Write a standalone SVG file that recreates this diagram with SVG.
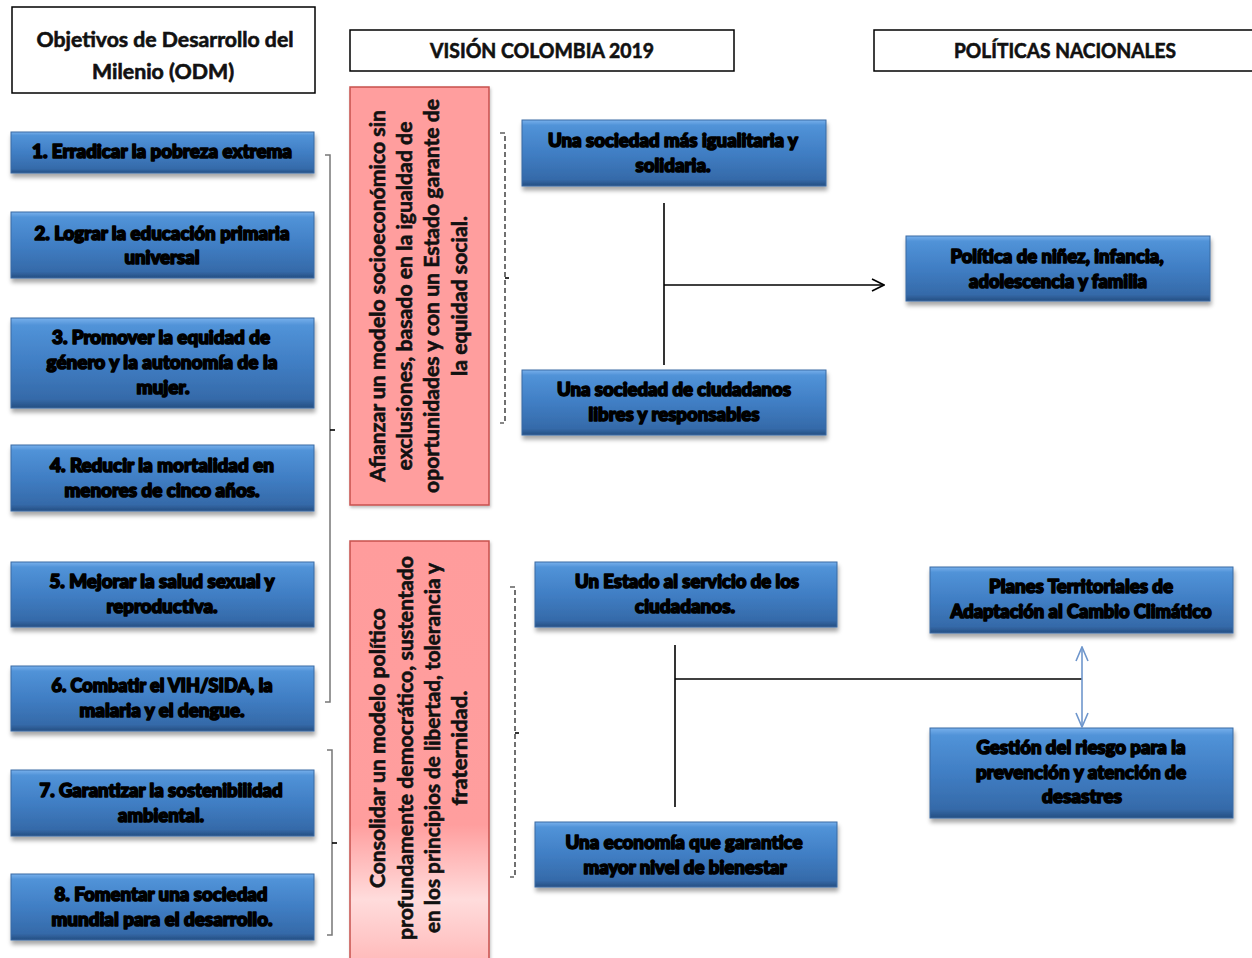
<svg xmlns="http://www.w3.org/2000/svg" width="1252" height="958" viewBox="0 0 1252 958">
<style>
.hdr{fill:#fff;stroke:#000;stroke-width:1.5}
.ht{font-family:Lato,"Liberation Sans",sans-serif;font-weight:bold;font-size:20px;fill:#111;stroke:#111;stroke-width:0.6;text-anchor:middle}
.bx{fill:url(#blueG);stroke:#3a6aa3;stroke-width:1;filter:url(#sh)}
.bt{font-family:Lato,"Liberation Sans",sans-serif;font-weight:900;font-size:18px;fill:#000;stroke:#000;stroke-width:1.6;text-anchor:middle;stroke-linejoin:round}
.red{stroke:#c8514e;stroke-width:1.5;filter:url(#sh2)}
.rt{font-family:Lato,"Liberation Sans",sans-serif;font-weight:bold;font-size:20px;fill:#111;stroke:#111;stroke-width:0.6;text-anchor:middle}
.br{fill:none;stroke:#777;stroke-width:1.5}
.dbr{fill:none;stroke:#111;stroke-width:1.2;stroke-dasharray:5 3}
.ln{fill:none;stroke:#000;stroke-width:1.6}
.bl{fill:none;stroke:#6e96cc;stroke-width:1.6}
</style>
<defs>
<linearGradient id="blueG" x1="0" y1="0" x2="0" y2="1">
<stop offset="0" stop-color="#78b0ec"/>
<stop offset="0.08" stop-color="#5193d8"/>
<stop offset="0.5" stop-color="#407ec4"/>
<stop offset="0.9" stop-color="#356aa9"/>
<stop offset="1" stop-color="#254f82"/>
</linearGradient>
<linearGradient id="redG2" gradientUnits="userSpaceOnUse" x1="0" y1="541" x2="0" y2="958">
<stop offset="0" stop-color="#ff9c9c"/>
<stop offset="0.68" stop-color="#ff9e9e"/>
<stop offset="0.86" stop-color="#ffdcdc"/>
<stop offset="1" stop-color="#ffbcbc"/>
</linearGradient>
<filter id="sh" x="-10%" y="-20%" width="120%" height="150%">
<feDropShadow dx="1" dy="4" stdDeviation="2" flood-color="#000" flood-opacity="0.35"/>
</filter>
<filter id="sh2" x="-10%" y="-10%" width="120%" height="120%">
<feDropShadow dx="1" dy="2" stdDeviation="1.5" flood-color="#000" flood-opacity="0.25"/>
</filter>
<marker id="ahK" viewBox="0 0 14 14" refX="13" refY="7" markerWidth="14" markerHeight="14" markerUnits="userSpaceOnUse" orient="auto-start-reverse">
<path d="M1,1 L13,7 L1,13" fill="none" stroke="#000" stroke-width="1.6"/>
</marker>
<marker id="ahB" viewBox="0 0 16 14" refX="15" refY="7" markerWidth="16" markerHeight="14" markerUnits="userSpaceOnUse" orient="auto-start-reverse">
<path d="M1,1 L15,7 L1,13" fill="none" stroke="#6e96cc" stroke-width="1.6"/>
</marker>
</defs>
<rect width="1252" height="958" fill="#fff"/>

<g id="hdr-odm">
<rect class="hdr" x="12" y="7" width="303" height="86"/>
<text class="ht" x="165" y="47" textLength="257" lengthAdjust="spacingAndGlyphs">Objetivos de Desarrollo del</text>
<text class="ht" x="163" y="79" textLength="142" lengthAdjust="spacingAndGlyphs">Milenio (ODM)</text>
</g>
<g id="hdr-vision">
<rect class="hdr" x="350" y="30" width="384" height="41"/>
<text class="ht" x="542" y="58" textLength="224" lengthAdjust="spacingAndGlyphs">VISIÓN COLOMBIA 2019</text>
</g>
<g id="hdr-politicas">
<rect class="hdr" x="874" y="30" width="384" height="41"/>
<text class="ht" x="1065" y="58" textLength="222" lengthAdjust="spacingAndGlyphs">POLÍTICAS NACIONALES</text>
</g>

<g id="odm1"><rect class="bx" x="11" y="132" width="303" height="41"/>
<text class="bt" x="162" y="158" textLength="260" lengthAdjust="spacingAndGlyphs">1. Erradicar la pobreza extrema</text></g>
<g id="odm2"><rect class="bx" x="11" y="212" width="303" height="66"/>
<text class="bt" x="162" y="240" textLength="255" lengthAdjust="spacingAndGlyphs">2. Lograr la educación primaria</text>
<text class="bt" x="162" y="264" textLength="75" lengthAdjust="spacingAndGlyphs">universal</text></g>
<g id="odm3"><rect class="bx" x="11" y="318" width="303" height="90"/>
<text class="bt" x="161" y="344" textLength="218" lengthAdjust="spacingAndGlyphs">3. Promover la equidad de</text>
<text class="bt" x="162" y="369" textLength="231" lengthAdjust="spacingAndGlyphs">género y la autonomía de la</text>
<text class="bt" x="163" y="394" textLength="53" lengthAdjust="spacingAndGlyphs">mujer.</text></g>
<g id="odm4"><rect class="bx" x="11" y="445" width="303" height="66"/>
<text class="bt" x="162" y="472" textLength="224" lengthAdjust="spacingAndGlyphs">4. Reducir la mortalidad  en</text>
<text class="bt" x="162" y="497" textLength="195" lengthAdjust="spacingAndGlyphs">menores de cinco años.</text></g>
<g id="odm5"><rect class="bx" x="11" y="562" width="303" height="65"/>
<text class="bt" x="162" y="588" textLength="225" lengthAdjust="spacingAndGlyphs">5. Mejorar la salud sexual y</text>
<text class="bt" x="162" y="613" textLength="111" lengthAdjust="spacingAndGlyphs">reproductiva.</text></g>
<g id="odm6"><rect class="bx" x="11" y="666" width="303" height="65"/>
<text class="bt" x="162" y="692" textLength="221" lengthAdjust="spacingAndGlyphs">6. Combatir el VIH/SIDA,  la</text>
<text class="bt" x="162" y="717" textLength="165" lengthAdjust="spacingAndGlyphs">malaria y el dengue.</text></g>
<g id="odm7"><rect class="bx" x="11" y="770" width="303" height="66"/>
<text class="bt" x="161" y="797" textLength="243" lengthAdjust="spacingAndGlyphs">7. Garantizar  la sostenibilidad</text>
<text class="bt" x="161" y="822" textLength="86" lengthAdjust="spacingAndGlyphs">ambiental.</text></g>
<g id="odm8"><rect class="bx" x="11" y="874" width="303" height="66"/>
<text class="bt" x="161" y="901" textLength="213" lengthAdjust="spacingAndGlyphs">8. Fomentar  una sociedad</text>
<text class="bt" x="162" y="926" textLength="221" lengthAdjust="spacingAndGlyphs">mundial para el desarrollo.</text></g>

<g id="vision1">
<rect class="red" x="350" y="87" width="139" height="418" fill="#ff9e9e"/>
<g transform="translate(0,296)">
<text class="rt" transform="translate(385,0) rotate(-90)" textLength="372" lengthAdjust="spacingAndGlyphs">Afianzar un modelo socioeconómico sin</text>
<text class="rt" transform="translate(412,0) rotate(-90)" textLength="349" lengthAdjust="spacingAndGlyphs">exclusiones, basado en la igualdad de</text>
<text class="rt" transform="translate(439,0) rotate(-90)" textLength="394" lengthAdjust="spacingAndGlyphs">oportunidades y con un Estado garante de</text>
<text class="rt" transform="translate(467,0) rotate(-90)" textLength="160" lengthAdjust="spacingAndGlyphs">la equidad social.</text>
</g>
</g>
<g id="vision2">
<rect class="red" x="350" y="541" width="139" height="430" fill="url(#redG2)"/>
<g transform="translate(0,748)">
<text class="rt" transform="translate(385,0) rotate(-90)" textLength="280" lengthAdjust="spacingAndGlyphs">Consolidar un modelo político</text>
<text class="rt" transform="translate(413,0) rotate(-90)" textLength="384" lengthAdjust="spacingAndGlyphs">profundamente democrático, sustentado</text>
<text class="rt" transform="translate(440,0) rotate(-90)" textLength="370" lengthAdjust="spacingAndGlyphs">en los principios de libertad, tolerancia y</text>
<text class="rt" transform="translate(467,0) rotate(-90)" textLength="115" lengthAdjust="spacingAndGlyphs">fraternidad.</text>
</g>
</g>

<g id="soc1"><rect class="bx" x="522" y="120" width="304" height="66"/>
<text class="bt" x="673" y="147" textLength="250" lengthAdjust="spacingAndGlyphs">Una sociedad más igualitaria y</text>
<text class="bt" x="673" y="172" textLength="75" lengthAdjust="spacingAndGlyphs">solidaria.</text></g>
<g id="soc2"><rect class="bx" x="522" y="370" width="304" height="65"/>
<text class="bt" x="674" y="396" textLength="234" lengthAdjust="spacingAndGlyphs">Una sociedad de ciudadanos</text>
<text class="bt" x="674" y="421" textLength="171" lengthAdjust="spacingAndGlyphs">libres y responsables</text></g>
<g id="estado"><rect class="bx" x="535" y="562" width="302" height="65"/>
<text class="bt" x="687" y="588" textLength="224" lengthAdjust="spacingAndGlyphs">Un Estado  al servicio de los</text>
<text class="bt" x="685" y="613" textLength="100" lengthAdjust="spacingAndGlyphs">ciudadanos.</text></g>
<g id="economia"><rect class="bx" x="535" y="822" width="302" height="65"/>
<text class="bt" x="684" y="849" textLength="237" lengthAdjust="spacingAndGlyphs">Una economía que garantice</text>
<text class="bt" x="685" y="874" textLength="203" lengthAdjust="spacingAndGlyphs">mayor nivel de bienestar</text></g>

<g id="pol-ninez"><rect class="bx" x="906" y="236" width="304" height="65"/>
<text class="bt" x="1057" y="263" textLength="213" lengthAdjust="spacingAndGlyphs">Política de niñez, infancia,</text>
<text class="bt" x="1058" y="288" textLength="178" lengthAdjust="spacingAndGlyphs">adolescencia y familia</text></g>
<g id="pol-planes"><rect class="bx" x="930" y="567" width="303" height="66"/>
<text class="bt" x="1081" y="593" textLength="184" lengthAdjust="spacingAndGlyphs">Planes Territoriales de</text>
<text class="bt" x="1081" y="618" textLength="261" lengthAdjust="spacingAndGlyphs">Adaptación al  Cambio  Climático</text></g>
<g id="pol-gestion"><rect class="bx" x="930" y="728" width="303" height="90"/>
<text class="bt" x="1081" y="754" textLength="209" lengthAdjust="spacingAndGlyphs">Gestión del riesgo para la</text>
<text class="bt" x="1081" y="779" textLength="210" lengthAdjust="spacingAndGlyphs">prevención y atención de</text>
<text class="bt" x="1082" y="803" textLength="80" lengthAdjust="spacingAndGlyphs">desastres</text></g>

<g id="connectors">
<path class="br" d="M325,155 H330 V702 H325"/>
<path class="ln" d="M330,430 H335" stroke-width="1.2"/>
<path class="br" d="M327,750 H332 V935 H327"/>
<path class="ln" d="M332,843 H337" stroke-width="1.2"/>
<path class="dbr" d="M500,133 H505 V423 H500"/>
<path class="ln" d="M505,278 H509" stroke-width="1.2"/>
<path class="dbr" d="M510,587 H515 V877 H510"/>
<path class="ln" d="M515,733 H519" stroke-width="1.2"/>
<path class="ln" d="M664,203 V365"/>
<path class="ln" d="M664,285 H884" marker-end="url(#ahK)"/>
<path class="ln" d="M675,645 V807"/>
<path class="ln" d="M675,679 H1082"/>
<path class="bl" d="M1082,647 V727" marker-start="url(#ahB)" marker-end="url(#ahB)"/>
</g>
</svg>
